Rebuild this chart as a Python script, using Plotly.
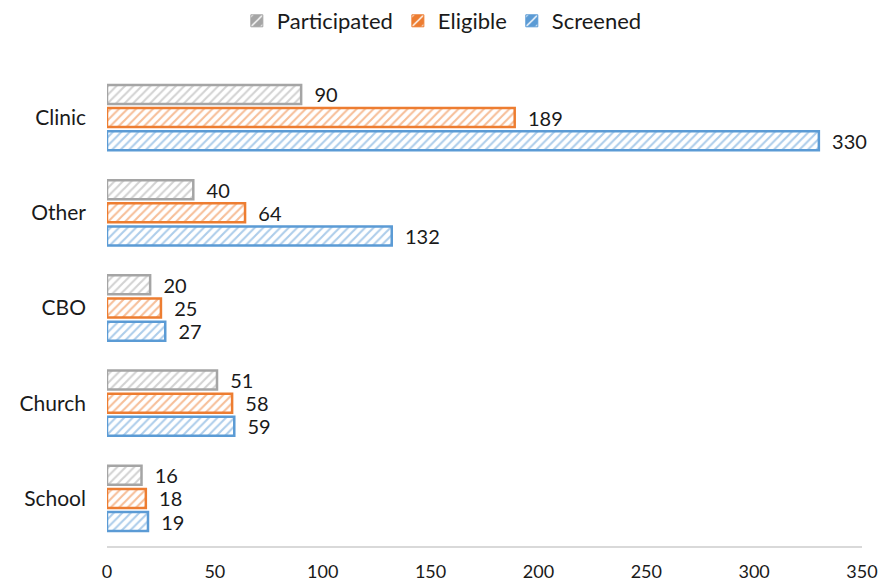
import plotly.graph_objects as go

sites = ["Clinic", "Other", "CBO", "Church", "School"]
participated = [90, 40, 20, 51, 16]
eligible = [189, 64, 25, 58, 18]
screened = [330, 132, 27, 59, 19]

series = [
    ("Participated", participated, "#A5A5A5"),
    ("Eligible", eligible, "#ED7D31"),
    ("Screened", screened, "#5B9BD5"),
]

font_family = "Lato, 'Open Sans', sans-serif"

fig = go.Figure()
for name, vals, color in series:
    fig.add_trace(go.Bar(
        name=name,
        y=sites,
        x=vals,
        orientation="h",
        offsetgroup=name,
        marker=dict(
            color="white",
            line=dict(color=color, width=2.5),
            pattern=dict(shape="/", fgcolor=color, bgcolor="white",
                         size=6, solidity=0.35, fillmode="overlay"),
        ),
        texttemplate="  %{x}",
        textposition="outside",
        constraintext="none",
        textfont=dict(size=20, color="#1a1a1a", family=font_family),
        cliponaxis=False,
        showlegend=False,
        legendgroup=name,
    ))

# legend keys: solid swatches with a small hatch (share each series' slot)
for name, vals, color in series:
    fig.add_trace(go.Bar(
        name=name,
        y=[None],
        x=[None],
        orientation="h",
        offsetgroup=name,
        marker=dict(
            color=color,
            line=dict(color=color, width=1),
            pattern=dict(shape="/", fgcolor="white", bgcolor=color,
                         size=9, solidity=0.2, fillmode="replace"),
        ),
        showlegend=True,
        legendgroup=name,
    ))

fig.update_layout(
    width=889,
    height=587,
    margin=dict(l=107, r=27, t=70, b=41),
    paper_bgcolor="white",
    plot_bgcolor="white",
    barmode="group",
    bargap=0.27,
    bargroupgap=0.18,
    font=dict(family=font_family, color="#1a1a1a"),
    legend=dict(
        orientation="h",
        x=0.497, xanchor="center", xref="container",
        y=1.0, yref="container", yanchor="top",
        font=dict(size=22, family=font_family),
        itemwidth=30,
        traceorder="normal",
    ),
    showlegend=True,
)

fig.update_xaxes(
    range=[0, 350],
    dtick=50,
    showgrid=False,
    zeroline=False,
    showline=True,
    linecolor="#D9D9D9",
    linewidth=1.5,
    ticks="",
    ticklabelstandoff=9,
    tickfont=dict(size=18, family=font_family),
    automargin=False,
)
fig.update_yaxes(
    autorange="reversed",
    showgrid=False,
    zeroline=False,
    showline=False,
    ticks="",
    ticklabelstandoff=20,
    tickfont=dict(size=21, family=font_family),
    automargin=False,
)

fig.write_html("out.html")
